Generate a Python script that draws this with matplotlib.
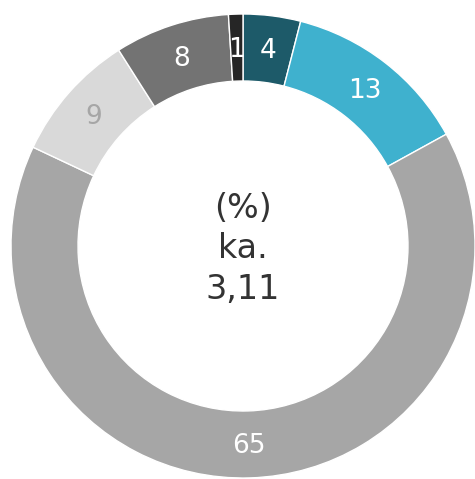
import matplotlib
matplotlib.use("Agg")
import matplotlib.pyplot as plt
import numpy as np

values = [4, 13, 65, 9, 8, 1]
labels = ["4", "13", "65", "9", "8", "1"]
colors = ["#1d5a69", "#3fb1ce", "#a6a6a6", "#d9d9d9", "#737373", "#262626"]
label_colors = ["white", "white", "white", "#a6a6a6", "white", "white"]
center_text = "(%)\nka.\n3,11"

fig = plt.figure(figsize=(4.75, 4.79), dpi=100)
ax = fig.add_axes([0, 0, 1, 1])
R = 232
width = 67
wedges, _ = ax.pie(values, radius=R, startangle=90, counterclock=False, colors=colors,
                   wedgeprops=dict(width=width, edgecolor="white", linewidth=1))
for w, lab, c in zip(wedges, labels, label_colors):
    ang = np.deg2rad((w.theta1 + w.theta2) / 2)
    r = R - width / 2
    ax.text(r * np.cos(ang), r * np.sin(ang) - 2, lab, ha="center", va="center",
            color=c, fontsize=19, family="DejaVu Sans")
ax.text(0, -3, center_text, ha="center", va="center", color="#333333",
        fontsize=24, linespacing=1.3, family="DejaVu Sans")
ax.set_xlim(-243, 232)
ax.set_ylim(-233, 246)
ax.set_aspect("equal")
ax.axis("off")
fig.savefig("out.png", dpi=100)
